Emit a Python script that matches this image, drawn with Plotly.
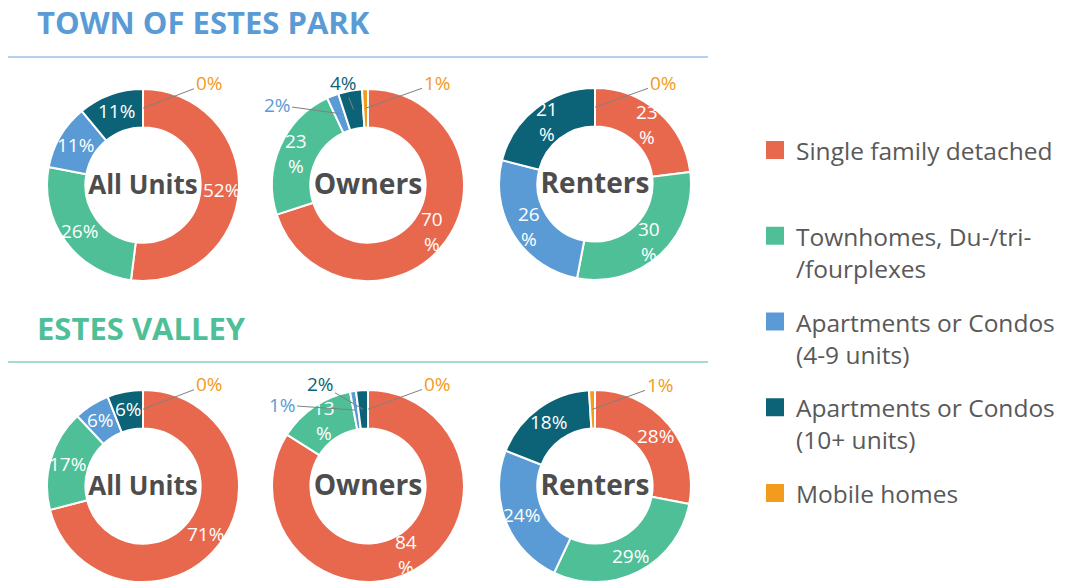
import math
import plotly.graph_objects as go

# ---------------- data ----------------
categories = [
    "Single family detached",
    "Townhomes, Du-/tri-/fourplexes",
    "Apartments or Condos (4-9 units)",
    "Apartments or Condos (10+ units)",
    "Mobile homes",
]
legend_labels = [
    "Single family detached",
    "Townhomes, Du-/tri-<br>/fourplexes",
    "Apartments or Condos<br>(4-9 units)",
    "Apartments or Condos<br>(10+ units)",
    "Mobile homes",
]
groups = ["All Units", "Owners", "Renters"]
section_titles = ["TOWN OF ESTES PARK", "ESTES VALLEY"]

town_all = [52, 26, 11, 11, 0]
town_owners = [70, 23, 2, 4, 1]
town_renters = [23, 30, 26, 21, 0]
valley_all = [71, 17, 6, 6, 0]
valley_owners = [84, 13, 1, 2, 0]
valley_renters = [28, 29, 24, 18, 1]

# ---------------- style ----------------
W, H = 1065, 583
colors = ["#E8684E", "#4FBF98", "#5B9BD5", "#0C6377", "#F29B1D"]
title_colors = ["#5B9BD5", "#4FBF98"]
rule_colors = ["#9DC3E6", "#8ACFBF"]
FONT = "Open Sans"
R = 96
centers = [
    [(143, 185), (368, 185), (595, 184)],
    [(143, 486), (368, 486), (595, 486)],
]
# wrap the inside label ("70<br>%") like the original text boxes
wrap = [[False, True, True], [False, True, False]]
# pixel offsets of outside labels (label centre relative to donut centre)
small_offsets = [
    [{4: (66, -102)}, {2: (-91, -80), 3: (-25, -102), 4: (69, -102)}, {4: (68, -101)}],
    [{4: (66, -102)}, {2: (-86, -81), 3: (-48, -102), 4: (69, -102)}, {4: (65, -101)}],
]
SMALL = 5
LABEL_R = 0.82

data = [
    [town_all, town_owners, town_renters],
    [valley_all, valley_owners, valley_renters],
]


def px(x):
    return x / W


def py(y):
    return 1 - y / H


fig = go.Figure()
annotations = []
shapes = []

for si in range(2):
    for gi in range(3):
        vals = data[si][gi]
        cx, cy = centers[si][gi]
        fig.add_trace(
            go.Pie(
                values=vals,
                labels=categories,
                hole=0.6,
                sort=False,
                direction="clockwise",
                rotation=0,
                marker=dict(colors=colors, line=dict(color="white", width=2)),
                textinfo="none",
                title=dict(
                    text=groups[gi],
                    position="middle center",
                    font=dict(size=29, family=FONT, color="#4D4D4D", weight="bold"),
                ),
                domain=dict(
                    x=[px(cx - R), px(cx + R)],
                    y=[py(cy + R), py(cy - R)],
                ),
                showlegend=False,
                hoverinfo="label+value",
            )
        )
        total = sum(vals)
        cum = 0
        for ci, v in enumerate(vals):
            mid = (cum + v / 2) / total
            cum += v
            th = 2 * math.pi * mid
            if v >= SMALL:
                lx = cx + LABEL_R * R * math.sin(th)
                ly = cy - LABEL_R * R * math.cos(th)
                annotations.append(
                    dict(
                        x=px(lx), y=py(ly), xref="paper", yref="paper",
                        xanchor="center", yanchor="middle", showarrow=False,
                        text=f"{v}<br>%" if wrap[si][gi] else f"{v}%",
                        font=dict(color="white", size=19, family=FONT),
                    )
                )
                continue
            off = small_offsets[si][gi].get(ci)
            if off is None:
                continue
            hx = cx + 0.8 * R * math.sin(th)
            hy = cy - 0.8 * R * math.cos(th)
            lx, ly = cx + off[0], cy + off[1]
            annotations.append(
                dict(
                    x=px(hx), y=py(hy), xref="paper", yref="paper",
                    text=f"{v}%", showarrow=True, arrowhead=0,
                    arrowwidth=1, arrowcolor="#808080",
                    ax=lx - hx, ay=ly - hy, standoff=0,
                    font=dict(color=colors[ci], size=19, family=FONT),
                )
            )

# section titles and rules
title_y = [22, 328]
rule_y = [57, 362]
for si in range(2):
    annotations.append(
        dict(
            x=px(35), y=py(title_y[si]), xref="paper", yref="paper",
            xanchor="left", yanchor="middle", showarrow=False,
            text=f"<b>{section_titles[si]}</b>",
            font=dict(size=31, family=FONT, color=title_colors[si]),
        )
    )
    shapes.append(
        dict(
            type="line", xref="paper", yref="paper",
            x0=px(8), x1=px(708), y0=py(rule_y[si]), y1=py(rule_y[si]),
            line=dict(color=rule_colors[si], width=1.5),
        )
    )

# legend (drawn manually)
leg_top = 150
leg_step = 85.75
for ci, lab in enumerate(legend_labels):
    yc = leg_top + leg_step * ci
    shapes.append(
        dict(
            type="rect", xref="paper", yref="paper",
            x0=px(766), x1=px(784), y0=py(yc + 9), y1=py(yc - 9),
            fillcolor=colors[ci], line=dict(width=0),
        )
    )
    annotations.append(
        dict(
            x=px(794), y=py(yc - 18), xref="paper", yref="paper",
            xanchor="left", yanchor="top", align="left", showarrow=False,
            text=lab, font=dict(size=24.5, family=FONT, color="#595959"),
        )
    )

fig.update_layout(
    width=W, height=H,
    margin=dict(l=0, r=0, t=0, b=0),
    paper_bgcolor="white", plot_bgcolor="white",
    annotations=annotations,
    shapes=shapes,
    showlegend=False,
)

fig.write_html(
    "out.html",
    config={"displayModeBar": False},
    post_script="document.body.style.margin='0';document.body.style.overflow='hidden';",
)
